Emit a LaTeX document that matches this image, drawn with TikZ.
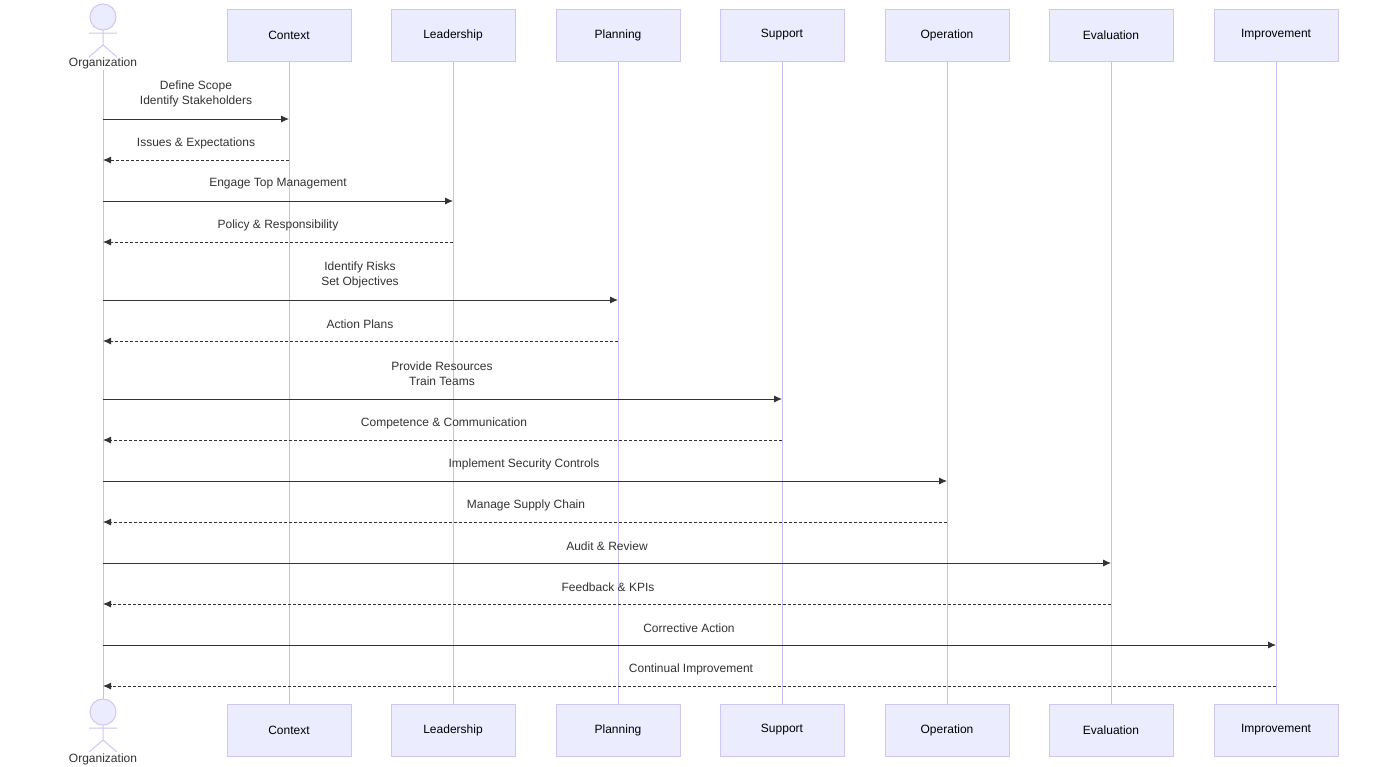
\documentclass[tikz,border=0pt]{standalone}
\usepackage{fontspec}
\setmainfont{Liberation Sans}
\usetikzlibrary{arrows.meta}
\definecolor{boxfill}{HTML}{ECECFF}
\definecolor{boxline}{HTML}{CFC6F2}
\definecolor{life}{HTML}{C9BFEF}
\definecolor{ink}{HTML}{333333}
\tikzset{
 actbox/.style={draw=boxline,fill=boxfill,minimum width=124pt,minimum height=52pt,inner sep=0pt,font=\fontsize{12}{14}\selectfont,text=black},
 lifeline/.style={draw=life,line width=1pt},
 msg/.style={draw=ink,line width=0.9pt,-{Latex[length=8pt,width=7pt]}},
 ret/.style={msg,dash pattern=on 3pt off 2pt},
 lbl/.style={font=\fontsize{12}{15}\selectfont,text=ink,align=center,inner sep=0pt},
 stick/.style={draw=boxline,fill=boxfill,line width=1pt}
}
\begin{document}
\begin{tikzpicture}[x=1pt,y=-1pt]
\useasboundingbox[fill=white] (0,0) rectangle (1379,766);
% lifelines
\draw[lifeline] (103,70) -- (103,700);
\foreach \x/\n/\t in {289/ctx/Context,453/lead/Leadership,618/plan/Planning,782/sup/Support,947/op/Operation,1111/ev/Evaluation,1276/imp/Improvement}{
 \draw[lifeline] (\x,61) -- (\x,704);
 \node[actbox] (\n top) at (\x,35) {\t};
 \node[actbox] (\n bot) at (\x,730) {\t};
}
% actors
\foreach \y/\s in {17/top,712/bot}{
 \draw[stick] (103,\y) circle (13);
 \draw[boxline,line width=1pt] (103,\y+13) -- (103,\y+28) (89,\y+16) -- (117,\y+16) (103,\y+28) -- (89,\y+40) (103,\y+28) -- (117,\y+40);
}
\node[lbl] (orgtop) at (103,63) {Organization};
\node[lbl] (orgbot) at (103,759) {Organization};
% coordinates for messages
\foreach \y/\i in {119/1,160/2,201/3,242/4,300/5,341/6,399/7,440/8,481/9,522/10,563/11,604/12,645/13,686/14}{
 \coordinate (o\i) at (103,\y);
}
\coordinate (c1) at (289,119); \coordinate (c2) at (289,160);
\coordinate (c3) at (453,201); \coordinate (c4) at (453,242);
\coordinate (c5) at (618,300); \coordinate (c6) at (618,341);
\coordinate (c7) at (782,399); \coordinate (c8) at (782,440);
\coordinate (c9) at (947,481); \coordinate (c10) at (947,522);
\coordinate (c11) at (1111,563); \coordinate (c12) at (1111,604);
\coordinate (c13) at (1276,645); \coordinate (c14) at (1276,686);
\draw[msg] (o1) -- (c1); \draw[ret] (c2) -- (o2);
\draw[msg] (o3) -- (c3); \draw[ret] (c4) -- (o4);
\draw[msg] (o5) -- (c5); \draw[ret] (c6) -- (o6);
\draw[msg] (o7) -- (c7); \draw[ret] (c8) -- (o8);
\draw[msg] (o9) -- (c9); \draw[ret] (c10) -- (o10);
\draw[msg] (o11) -- (c11); \draw[ret] (c12) -- (o12);
\draw[msg] (o13) -- (c13); \draw[ret] (c14) -- (o14);
% labels
\node[lbl] (l1) at (196,94) {Define Scope\\Identify Stakeholders};
\node[lbl] (l2) at (196,143) {Issues \& Expectations};
\node[lbl] (l3) at (278,184) {Engage Top Management};
\node[lbl] (l4) at (278,225) {Policy \& Responsibility};
\node[lbl] (l5) at (360,275) {Identify Risks\\Set Objectives};
\node[lbl] (l6) at (360,324) {Action Plans};
\node[lbl] (l7) at (442,374) {Provide Resources\\Train Teams};
\node[lbl] (l8) at (444,423) {Competence \& Communication};
\node[lbl] (l9) at (524,464) {Implement Security Controls};
\node[lbl] (l10) at (526,505) {Manage Supply Chain};
\node[lbl] (l11) at (607,546) {Audit \& Review};
\node[lbl] (l12) at (608,587) {Feedback \& KPIs};
\node[lbl] (l13) at (689,628) {Corrective Action};
\node[lbl] (l14) at (691,669) {Continual Improvement};
\end{tikzpicture}
\end{document}
